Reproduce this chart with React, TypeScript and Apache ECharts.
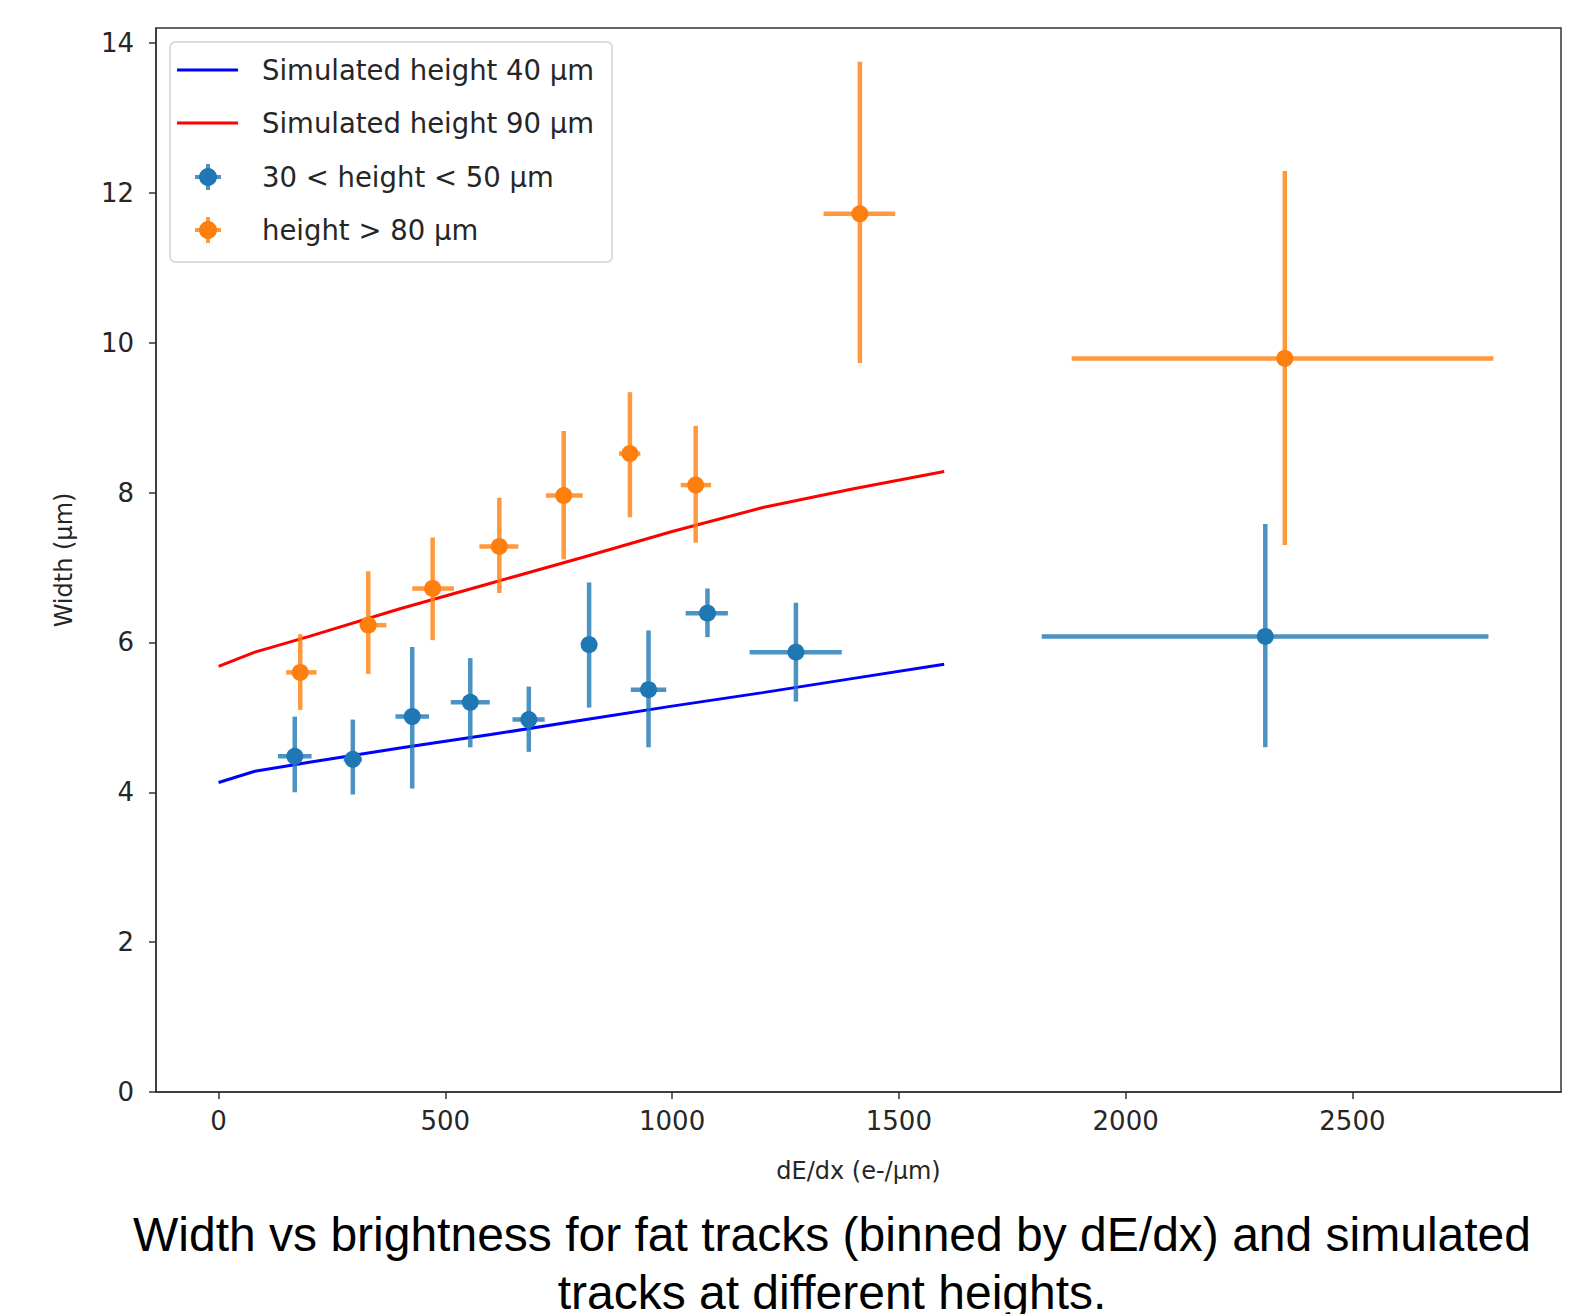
import React, { useEffect, useRef } from "react";
import * as echarts from "echarts";

// ---- axis ticks ----
const xTicks = [0, 500, 1000, 1500, 2000, 2500];
const yTicks = [0, 2, 4, 6, 8, 10, 12, 14];

// ---- simulated curves ----
const simX = [0, 80, 200, 400, 600, 800, 1000, 1200, 1400, 1600];
const sim40 = [4.13, 4.28, 4.4, 4.59, 4.77, 4.96, 5.15, 5.33, 5.52, 5.71];
const sim90 = [5.68, 5.87, 6.08, 6.45, 6.79, 7.13, 7.48, 7.8, 8.05, 8.28];

// ---- measured: 30 < height < 50 um ----
const blueX = [168, 296, 427, 555, 684, 817, 948, 1078, 1273, 2308];
const blueY = [4.48, 4.44, 5.01, 5.2, 4.97, 5.97, 5.37, 6.39, 5.87, 6.08];
const blueXLo = [131, 276, 390, 512, 648, 803, 909, 1030, 1171, 1815];
const blueXHi = [205, 316, 464, 598, 719, 833, 987, 1123, 1374, 2800];
const blueYLo = [4.0, 3.97, 4.05, 4.6, 4.54, 5.13, 4.6, 6.07, 5.21, 4.6];
const blueYHi = [5.01, 4.97, 5.94, 5.79, 5.41, 6.8, 6.16, 6.72, 6.53, 7.58];

// ---- measured: height > 80 um ----
const orangeX = [180, 330, 472, 619, 761, 907, 1052, 1414, 2351];
const orangeY = [5.6, 6.23, 6.72, 7.28, 7.96, 8.52, 8.1, 11.72, 9.79];
const orangeXLo = [149, 311, 427, 575, 722, 883, 1019, 1334, 1881];
const orangeXHi = [216, 370, 519, 661, 803, 930, 1086, 1492, 2811];
const orangeYLo = [5.1, 5.58, 6.03, 6.66, 7.11, 7.67, 7.33, 9.73, 7.3];
const orangeYHi = [6.11, 6.95, 7.4, 7.93, 8.82, 9.34, 8.89, 13.75, 12.29];

const labels = [
  "Simulated height 40 μm",
  "Simulated height 90 μm",
  "30 < height < 50 μm",
  "height > 80 μm",
];

const BLUE = "#1f77b4";
const ORANGE = "#ff7f0e";
const FONT = "DejaVu Sans";

function pack(x: number[], y: number[], xl: number[], xh: number[], yl: number[], yh: number[]) {
  return x.map((v, i) => [v, y[i], xl[i], xh[i], yl[i], yh[i]]);
}

function errRender(color: string) {
  return (params: any, api: any) => {
    const x = api.value(0);
    const y = api.value(1);
    const pL = api.coord([api.value(2), y]);
    const pR = api.coord([api.value(3), y]);
    const pB = api.coord([x, api.value(4)]);
    const pT = api.coord([x, api.value(5)]);
    const st = { stroke: color, lineWidth: 4.5, opacity: 0.8 };
    return {
      type: "group",
      children: [
        { type: "line", shape: { x1: pL[0], y1: pL[1], x2: pR[0], y2: pR[1] }, style: st },
        { type: "line", shape: { x1: pB[0], y1: pB[1], x2: pT[0], y2: pT[1] }, style: st },
      ],
    };
  };
}

export default function App() {
  const ref = useRef<HTMLDivElement>(null);
  useEffect(() => {
    if (!ref.current) return;
    const chart = echarts.init(ref.current, null, { renderer: "svg" });
    const legendItems: any[] = [
      {
        type: "rect",
        shape: { x: 170, y: 42, width: 442, height: 220, r: 5 },
        style: { fill: "rgba(255,255,255,0.85)", stroke: "#d0d0d0", lineWidth: 1.5 },
        z: 100,
      },
      { type: "line", shape: { x1: 177, y1: 70, x2: 238, y2: 70 }, style: { stroke: "#0000ff", lineWidth: 3 }, z: 101 },
      { type: "line", shape: { x1: 177, y1: 123, x2: 238, y2: 123 }, style: { stroke: "#ff0000", lineWidth: 3 }, z: 101 },
    ];
    [
      [177, BLUE],
      [230, ORANGE],
    ].forEach(([cy, c]: any) => {
      legendItems.push(
        { type: "line", shape: { x1: 208, y1: cy - 13, x2: 208, y2: cy + 13 }, style: { stroke: c, lineWidth: 4, opacity: 0.8 }, z: 101 },
        { type: "line", shape: { x1: 195, y1: cy, x2: 221, y2: cy }, style: { stroke: c, lineWidth: 4, opacity: 0.8 }, z: 101 },
        { type: "circle", shape: { cx: 208, cy, r: 9 }, style: { fill: c }, z: 102 }
      );
    });
    [70, 123, 177, 230].forEach((ty, i) => {
      legendItems.push({
        type: "text",
        x: 262,
        y: ty,
        style: { text: labels[i], font: `27.5px "${FONT}"`, fill: "#262626", verticalAlign: "middle", align: "left" },
        z: 102,
      });
    });
    legendItems.push(
      {
        type: "text",
        x: 832,
        y: 1234,
        style: {
          text: "Width vs brightness for fat tracks (binned by dE/dx) and simulated",
          font: '48px "Liberation Sans", Arial, sans-serif',
          fill: "#000",
          align: "center",
          verticalAlign: "middle",
        },
      },
      {
        type: "text",
        x: 832,
        y: 1292,
        style: {
          text: "tracks at different heights.",
          font: '48px "Liberation Sans", Arial, sans-serif',
          fill: "#000",
          align: "center",
          verticalAlign: "middle",
        },
      }
    );

    const tickStyle = { color: "#333", width: 1.5 };
    chart.setOption({
      animation: false,
      backgroundColor: "#ffffff",
      grid: {
        left: 156,
        right: 20,
        top: 28,
        bottom: 222,
        show: true,
        borderColor: "#333",
        borderWidth: 1.5,
        backgroundColor: "transparent",
      },
      xAxis: {
        type: "value",
        min: -138,
        max: 2960,
        name: "dE/dx (e-/μm)",
        nameLocation: "middle",
        nameGap: 67,
        nameTextStyle: { fontFamily: FONT, fontSize: 24, color: "#262626" },
        axisLine: { show: true, onZero: false, lineStyle: tickStyle },
        splitLine: { show: false },
        axisTick: { show: true, length: 7, customValues: xTicks, lineStyle: tickStyle },
        axisLabel: {
          customValues: xTicks,
          margin: 16,
          fontFamily: FONT,
          fontSize: 26,
          color: "#262626",
          formatter: (v: number) => String(v),
        },
      },
      yAxis: {
        type: "value",
        min: 0,
        max: 14.2,
        name: "Width (μm)",
        nameLocation: "middle",
        nameGap: 80,
        nameRotate: 90,
        nameTextStyle: { fontFamily: FONT, fontSize: 24, color: "#262626" },
        axisLine: { show: true, onZero: false, lineStyle: tickStyle },
        splitLine: { show: false },
        axisTick: { show: true, length: 7, customValues: yTicks, lineStyle: tickStyle },
        axisLabel: {
          customValues: yTicks,
          margin: 22,
          fontFamily: FONT,
          fontSize: 26,
          color: "#262626",
          formatter: (v: number) => String(v),
        },
      },
      graphic: legendItems,
      series: [
        {
          type: "line",
          data: simX.map((x, i) => [x, sim40[i]]),
          showSymbol: false,
          lineStyle: { color: "#0000ff", width: 3 },
          z: 2,
        },
        {
          type: "line",
          data: simX.map((x, i) => [x, sim90[i]]),
          showSymbol: false,
          lineStyle: { color: "#ff0000", width: 3 },
          z: 2,
        },
        {
          type: "custom",
          data: pack(blueX, blueY, blueXLo, blueXHi, blueYLo, blueYHi),
          encode: { x: 0, y: 1 },
          renderItem: errRender(BLUE),
          z: 3,
        },
        {
          type: "scatter",
          data: blueX.map((x, i) => [x, blueY[i]]),
          symbol: "circle",
          symbolSize: 17,
          itemStyle: { color: BLUE, opacity: 1 },
          z: 4,
        },
        {
          type: "custom",
          data: pack(orangeX, orangeY, orangeXLo, orangeXHi, orangeYLo, orangeYHi),
          encode: { x: 0, y: 1 },
          renderItem: errRender(ORANGE),
          z: 3,
        },
        {
          type: "scatter",
          data: orangeX.map((x, i) => [x, orangeY[i]]),
          symbol: "circle",
          symbolSize: 17,
          itemStyle: { color: ORANGE, opacity: 1 },
          z: 4,
        },
      ],
    });
    return () => chart.dispose();
  }, []);
  return (
    <div
      ref={ref}
      style={{ position: "fixed", left: 0, top: 0, width: 1581, height: 1314, background: "#fff" }}
    />
  );
}
